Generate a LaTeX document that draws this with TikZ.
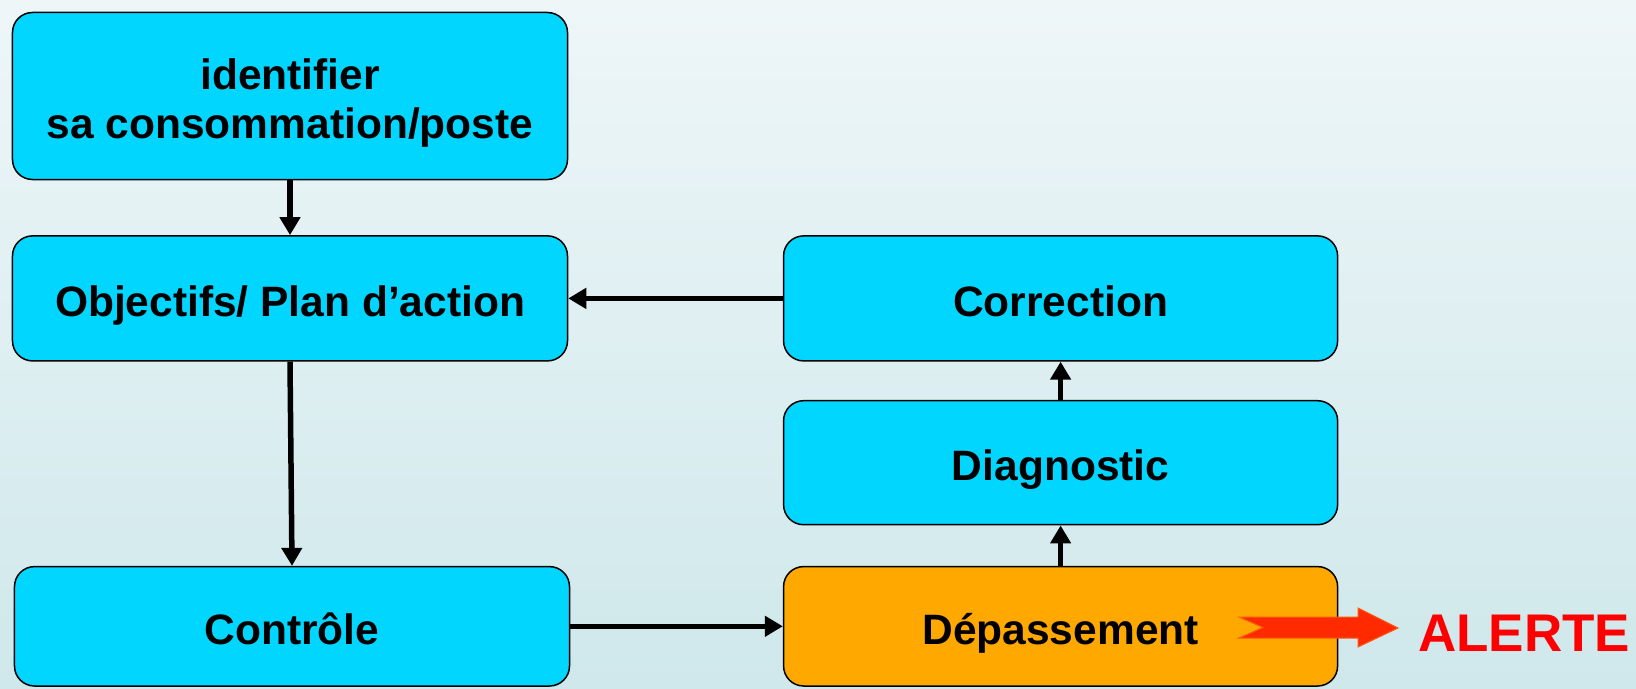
\documentclass[tikz,border=0pt]{standalone}
\usepackage{fontspec}
\setmainfont{Liberation Sans}
\usetikzlibrary{arrows.meta}
\definecolor{bgtop}{HTML}{EEF6F8}
\definecolor{bgbot}{HTML}{CFE8EB}
\definecolor{boxcyan}{HTML}{00D6FF}
\definecolor{boxorange}{HTML}{FFA800}
\definecolor{alertred}{HTML}{FF2A00}
\definecolor{alertedge}{HTML}{FF5A10}
\begin{document}
\begin{tikzpicture}[x=1bp,y=-1bp,
  stepbox/.style={draw=black, line width=1.5bp, fill=boxcyan, rounded corners=20bp,
    inner sep=0pt, align=center,
    font=\fontsize{42.5bp}{49.4bp}\selectfont\bfseries},
  onetext/.style={text height=35.4bp, text depth=0bp},
  flow/.style={line width=5.5bp, -{Triangle[length=18bp,width=20bp]}}
]
\useasboundingbox (0,0) rectangle (1636,689);
\shade[top color=bgtop, bottom color=bgbot] (0,0) rectangle (1636,689);

\node[stepbox, minimum width=555bp, minimum height=167bp] (ident) at (290,96)
  {\rule{0pt}{45bp}identifier\\sa consommation/poste};
\node[stepbox, onetext, minimum width=555bp, minimum height=125bp] (obj) at (290,298.4)
  {Objectifs/ Plan d’action};
\node[stepbox, onetext, minimum width=555bp, minimum height=119.4bp] (ctrl) at (292,626.3)
  {Contrôle};
\node[stepbox, onetext, minimum width=554bp, minimum height=125bp] (corr) at (1060.6,298.4)
  {Correction};
\node[stepbox, onetext, minimum width=554bp, minimum height=124bp] (diag) at (1060.6,462.7)
  {Diagnostic};
\node[stepbox, onetext, fill=boxorange, minimum width=554bp, minimum height=119.4bp] (dep) at (1060.6,626.3)
  {Dépassement};

\draw[flow] (ident.south) -- (obj.north);
\draw[flow] (obj.south) -- (ctrl.north);
\draw[flow] (corr.west) -- (obj.east);
\draw[flow] (ctrl.east) -- (dep.west);
\draw[flow] (dep.north) -- (diag.south);
\draw[flow] (diag.north) -- (corr.south);

% alert arrow
\fill[alertred, draw=alertedge, line width=1bp]
  (1239,617) -- (1358,617) -- (1358,608) -- (1398,628) -- (1358,647) -- (1358,638)
  -- (1239,638) -- (1263,627.5) -- cycle;
\node[anchor=base, text=red, inner sep=0pt, font=\fontsize{53bp}{60bp}\selectfont\bfseries]
  (alerte) at (1524,651) {ALERTE};
\end{tikzpicture}
\end{document}
